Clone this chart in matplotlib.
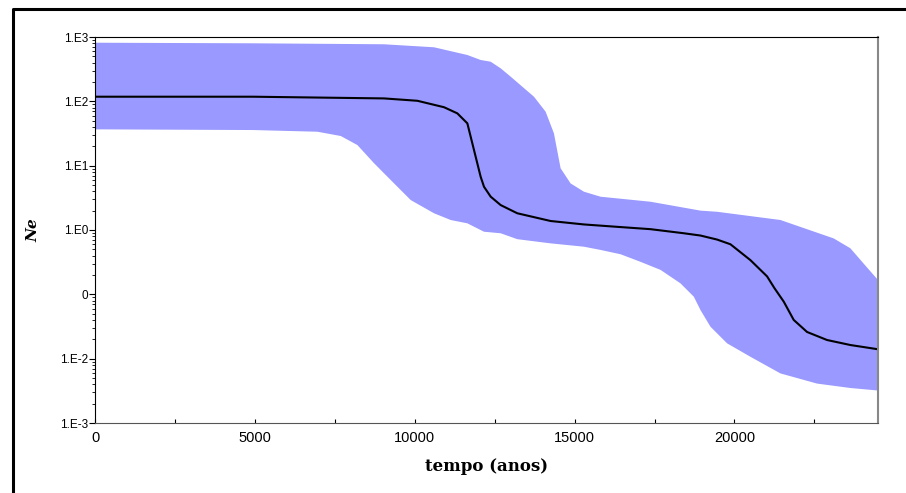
import numpy as np
import matplotlib.pyplot as plt
from matplotlib.lines import Line2D
from matplotlib.ticker import FixedLocator, FixedFormatter, LogLocator, NullFormatter, MultipleLocator

# mediana de Ne ao longo do tempo (anos)
t_med = [0, 4937, 9040, 10083, 10917, 11333, 11646, 11854, 12063, 12167, 12375, 12688,
         13208, 14250, 15292, 16333, 17375, 18417, 18938, 19458, 19875, 20500, 21021,
         21250, 21542, 21854, 22271, 22896, 23625, 24490]
ne_med = [118, 118, 111, 102, 81, 65, 45.5, 17.5, 6.7, 4.7, 3.3, 2.44,
          1.82, 1.38, 1.22, 1.12, 1.03, 0.89, 0.82, 0.71, 0.60, 0.34, 0.19,
          0.125, 0.077, 0.040, 0.026, 0.0195, 0.0163, 0.014]

# limite superior do intervalo HPD 95%
t_sup = [0, 4937, 9030, 10604, 11646, 12063, 12375, 12688, 13000, 13729, 14094,
         14354, 14563, 14875, 15292, 15813, 16333, 17375, 18938, 19458, 21438,
         23104, 23625, 24042, 24490]
ne_sup = [815, 798, 771, 692, 525, 439, 413, 326, 242, 118, 69,
          31.8, 9.1, 5.3, 3.94, 3.29, 3.1, 2.75, 2.0, 1.92, 1.43,
          0.74, 0.52, 0.30, 0.167]

# limite inferior do intervalo HPD 95%
t_inf = [0, 4937, 6958, 7688, 8208, 8729, 9250, 9875, 10604, 11125, 11646, 12167,
         12688, 13208, 14250, 15292, 15813, 16438, 17063, 17688, 18313, 18729,
         18938, 19250, 19771, 20500, 21438, 22583, 23625, 24490]
ne_inf = [36.7, 35.8, 33.7, 28.9, 20.9, 10.9, 5.98, 2.92, 1.82, 1.43, 1.27, 0.94,
          0.89, 0.72, 0.62, 0.55, 0.49, 0.42, 0.32, 0.24, 0.148, 0.092,
          0.057, 0.0314, 0.0173, 0.0107, 0.0059, 0.0041, 0.0035, 0.0032]

yticks = [1e3, 1e2, 1e1, 1e0, 1e-1, 1e-2, 1e-3]
ylabels = ["1.E3", "1.E2", "1.E1", "1.E0", "0", "1.E-2", "1.E-3"]

fig = plt.figure(figsize=(9.06, 4.93), dpi=100)
ax = fig.add_axes([95 / 906, 70 / 493, 783 / 906, 386 / 493])

# banda HPD como poligono: superior ida, inferior volta
banda_x = t_sup + t_inf[::-1]
banda_y = ne_sup + ne_inf[::-1]
ax.fill(banda_x, banda_y, color="#9999ff", lw=0)
ax.plot(t_med, ne_med, color="black", lw=1.5)

ax.set_yscale("log")
ax.set_ylim(1e-3, 1e3)
ax.set_xlim(0, 24490)

ax.yaxis.set_major_locator(FixedLocator(yticks))
ax.yaxis.set_major_formatter(FixedFormatter(ylabels))
ax.yaxis.set_minor_locator(LogLocator(base=10, subs=np.arange(2, 10)))
ax.yaxis.set_minor_formatter(NullFormatter())
ax.xaxis.set_major_locator(MultipleLocator(5000))
ax.xaxis.set_minor_locator(MultipleLocator(2500))

ax.tick_params(axis="y", which="major", direction="out", length=4, width=0.8, pad=1,
               labelsize=8.5, labelfontfamily="Liberation Sans")
ax.tick_params(axis="y", which="minor", direction="out", length=2, width=0.6)
ax.tick_params(axis="x", which="both", direction="in", length=3, width=0.8, pad=6,
               labelsize=10.5, labelfontfamily="Liberation Sans")

ax.spines["top"].set_color("black")
ax.spines["left"].set_color("black")
ax.spines["right"].set_color("#888888")
ax.spines["right"].set_linewidth(1.5)
ax.spines["bottom"].set_color("#555555")

ax.set_xlabel("tempo (anos)", fontsize=12, fontweight="bold", family="DejaVu Serif", labelpad=9)
ax.set_ylabel("Ne", fontsize=11, fontweight="bold", style="italic", family="DejaVu Serif", labelpad=14)

# moldura externa
fig.add_artist(Line2D([13 / 906, 13 / 906, 1.0], [0.0, 1 - 8.5 / 493, 1 - 8.5 / 493],
                      transform=fig.transFigure, color="black", lw=2.2))

fig.savefig("out.png", dpi=100)
